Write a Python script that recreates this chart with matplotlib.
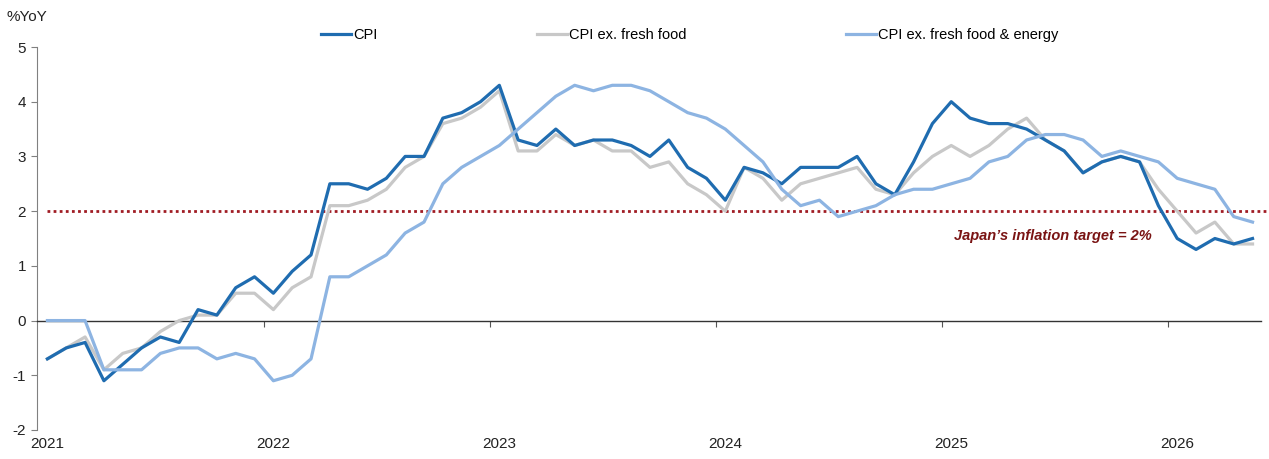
import matplotlib
matplotlib.use("Agg")
import matplotlib.pyplot as plt
import numpy as np

plt.rcParams['font.family'] = ['Liberation Sans', 'DejaVu Sans']
plt.rcParams['axes.unicode_minus'] = False

# monthly, Jan 2021 .. May 2026
months = np.arange(65)
years = ["2021", "2022", "2023", "2024", "2025", "2026"]

cpi = [-0.7, -0.5, -0.4, -1.1, -0.8, -0.5, -0.3, -0.4, 0.2, 0.1, 0.6, 0.8,
       0.5, 0.9, 1.2, 2.5, 2.5, 2.4, 2.6, 3.0, 3.0, 3.7, 3.8, 4.0,
       4.3, 3.3, 3.2, 3.5, 3.2, 3.3, 3.3, 3.2, 3.0, 3.3, 2.8, 2.6,
       2.2, 2.8, 2.7, 2.5, 2.8, 2.8, 2.8, 3.0, 2.5, 2.3, 2.9, 3.6,
       4.0, 3.7, 3.6, 3.6, 3.5, 3.3, 3.1, 2.7, 2.9, 3.0, 2.9, 2.1,
       1.5, 1.3, 1.5, 1.4, 1.5]

cpi_ex_fresh = [-0.7, -0.5, -0.3, -0.9, -0.6, -0.5, -0.2, 0.0, 0.1, 0.1, 0.5, 0.5,
                0.2, 0.6, 0.8, 2.1, 2.1, 2.2, 2.4, 2.8, 3.0, 3.6, 3.7, 3.9,
                4.2, 3.1, 3.1, 3.4, 3.2, 3.3, 3.1, 3.1, 2.8, 2.9, 2.5, 2.3,
                2.0, 2.8, 2.6, 2.2, 2.5, 2.6, 2.7, 2.8, 2.4, 2.3, 2.7, 3.0,
                3.2, 3.0, 3.2, 3.5, 3.7, 3.3, 3.1, 2.7, 2.9, 3.0, 2.9, 2.4,
                2.0, 1.6, 1.8, 1.4, 1.4]

cpi_ex_fresh_energy = [0.0, 0.0, 0.0, -0.9, -0.9, -0.9, -0.6, -0.5, -0.5, -0.7, -0.6, -0.7,
                       -1.1, -1.0, -0.7, 0.8, 0.8, 1.0, 1.2, 1.6, 1.8, 2.5, 2.8, 3.0,
                       3.2, 3.5, 3.8, 4.1, 4.3, 4.2, 4.3, 4.3, 4.2, 4.0, 3.8, 3.7,
                       3.5, 3.2, 2.9, 2.4, 2.1, 2.2, 1.9, 2.0, 2.1, 2.3, 2.4, 2.4,
                       2.5, 2.6, 2.9, 3.0, 3.3, 3.4, 3.4, 3.3, 3.0, 3.1, 3.0, 2.9,
                       2.6, 2.5, 2.4, 1.9, 1.8]

target = 2.0

fig = plt.figure(figsize=(12.69, 4.59), dpi=100)
ax = fig.add_axes([0.0292, 0.0632, 0.9645, 0.8344])

l2, = ax.plot(months, cpi_ex_fresh, color='#c8c8c8', lw=2.3, zorder=3,
              label='CPI ex. fresh food')
l1, = ax.plot(months, cpi, color='#1f6cb0', lw=2.3, zorder=4, label='CPI')
l3, = ax.plot(months, cpi_ex_fresh_energy, color='#8db4e2', lw=2.3, zorder=5,
              label='CPI ex. fresh food & energy')

ax.hlines(target, 0, 64.9, colors='#a01c24', linestyles=(0, (1, 1.2)), lw=2,
          zorder=2, clip_on=False)
ax.text(53.4, 1.55, 'Japan\u2019s inflation target = 2%', color='#7a1414',
        fontsize=10.5, fontweight='bold', fontstyle='italic', ha='center', va='center')

ax.set_xlim(-0.55, 64.45)
ax.set_ylim(-2, 5)
ax.set_yticks(range(-2, 6))
ax.tick_params(axis='y', direction='out', length=4, color='#808080',
               labelsize=11, labelcolor='#222222', pad=4)

for s in ['top', 'right']:
    ax.spines[s].set_visible(False)
ax.spines['left'].set_color('#808080')
ax.spines['bottom'].set_position(('data', 0))
ax.spines['bottom'].set_color('#333333')
ax.spines['bottom'].set_linewidth(1)

# tick marks between Dec and Jan on the zero line
ax.set_xticks(np.arange(11.5, 64, 12))
ax.set_xticklabels([])
ax.tick_params(axis='x', direction='out', length=4, color='#555555')

# year labels at the bottom of the plot area
sec = ax.secondary_xaxis(0)
sec.set_xticks(np.arange(0, 65, 12))
sec.set_xticklabels(years)
sec.tick_params(length=0, labelsize=11, labelcolor='#222222', pad=5)
sec.spines['bottom'].set_visible(False)

fig.text(0.005, 0.962, '%YoY', fontsize=11, color='#222222', ha='left', va='center')

fig.legend(handles=[l1, l2, l3], loc='center', bbox_to_anchor=(0.5435, 0.924),
           ncol=3, frameon=False, fontsize=10.5, handlelength=2.05,
           handletextpad=0.15, columnspacing=10.95)

fig.savefig('out.png', dpi=100)
